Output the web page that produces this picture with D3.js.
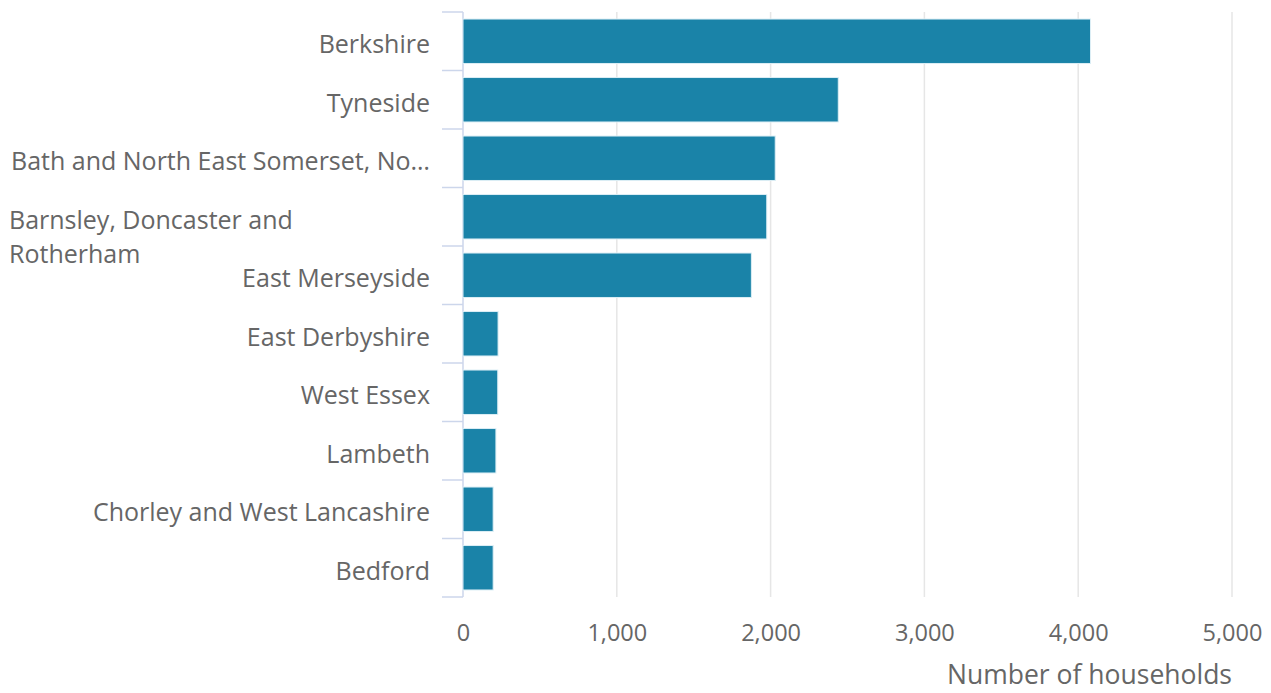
<!DOCTYPE html>
<html>
<head>
<meta charset="utf-8">
<script src="https://cdn.jsdelivr.net/npm/d3@7"></script>
<style>
  body { margin: 0; background: #fff; }
  text { font-family: "Open Sans", sans-serif; fill: #666; }
</style>
</head>
<body>
<div id="chart"></div>
<script>
// data
const categories = [
    'Berkshire',
    'Tyneside',
    'Bath and North East Somerset, No…',
    'Barnsley, Doncaster and|Rotherham',
    'East Merseyside',
    'East Derbyshire',
    'West Essex',
    'Lambeth',
    'Chorley and West Lancashire',
    'Bedford'
]
const households = [4080, 2440, 2030, 1975, 1875, 228, 226, 214, 196, 196]
const xTicks = [0, 1000, 2000, 3000, 4000, 5000]
const xTitle = 'Number of households'

// svg setup
const svgWidth = 1271
const svgHeight = 693
const margin = { left: 463, right: 39, top: 12, bottom: 96 }
const width = svgWidth - margin.left - margin.right
const height = svgHeight - margin.top - margin.bottom

const svg = d3.select('#chart')
    .append('svg')
    .attr('width', svgWidth)
    .attr('height', svgHeight)
    .append('g')
    .attr('transform', 'translate(' + margin.left + ',' + margin.top + ')')

const data = categories.map((c, i) => ({ name: c, value: households[i] }))

// scales
const xScale = d3.scaleLinear().domain([0, 5000]).range([0, width])
const yScale = d3.scaleBand()
    .domain(categories)
    .range([0, height])
    .paddingInner(0.24)
    .paddingOuter(0.12)

// gridlines
svg.append('g')
    .selectAll('line')
    .data(xTicks.filter(d => d > 0))
    .join('line')
    .attr('x1', d => xScale(d))
    .attr('x2', d => xScale(d))
    .attr('y1', 0)
    .attr('y2', height)
    .attr('stroke', '#e6e6e6')
    .attr('stroke-width', 1.5)

// x axis labels
const xAxis = d3.axisBottom(xScale)
    .tickValues(xTicks)
    .tickFormat(d3.format(','))
    .tickSize(0)
    .tickPadding(27)
const gx = svg.append('g')
    .attr('transform', 'translate(0,' + height + ')')
    .call(xAxis)
gx.select('.domain').remove()
gx.selectAll('text').style('font-size', '23.5px').attr('fill', '#666')

svg.append('text')
    .attr('x', width)
    .attr('y', height + 87)
    .attr('text-anchor', 'end')
    .style('font-size', '26.5px')
    .text(xTitle)

// y axis (line + ticks at band edges)
const step = yScale.step()
const edges = d3.range(categories.length + 1).map(i => i * step)
svg.append('line')
    .attr('x1', 0).attr('x2', 0)
    .attr('y1', 0).attr('y2', height)
    .attr('stroke', '#ccd6eb')
    .attr('stroke-width', 1.5)
svg.append('g')
    .selectAll('line')
    .data(edges)
    .join('line')
    .attr('x1', -21).attr('x2', 0)
    .attr('y1', d => d).attr('y2', d => d)
    .attr('stroke', '#ccd6eb')
    .attr('stroke-width', 1.5)

// bars
svg.selectAll('.bar')
    .data(data)
    .join('rect')
    .attr('class', 'bar')
    .attr('x', 0)
    .attr('y', d => yScale(d.name))
    .attr('width', d => xScale(d.value))
    .attr('height', yScale.bandwidth())
    .attr('fill', '#1a83a8')
    .attr('stroke', '#dceef5')
    .attr('stroke-width', 1)

// category labels
const labels = svg.append('g')
    .selectAll('text')
    .data(data)
    .join('text')
    .style('font-size', '25px')
    .attr('dominant-baseline', 'central')

labels.each(function (d) {
    const lines = d.name.split('|')
    const t = d3.select(this)
    const cy = yScale(d.name) + yScale.bandwidth() / 2 + 2
    if (lines.length === 1) {
        t.attr('x', -33).attr('y', cy).attr('text-anchor', 'end').text(lines[0])
    } else {
        t.attr('text-anchor', 'start')
        lines.forEach((l, i) => {
            t.append('tspan')
                .attr('x', 9 - margin.left)
                .attr('y', cy + (i - (lines.length - 1) / 2) * 34 + 17)
                .text(l)
        })
    }
})
</script>
</body>
</html>
